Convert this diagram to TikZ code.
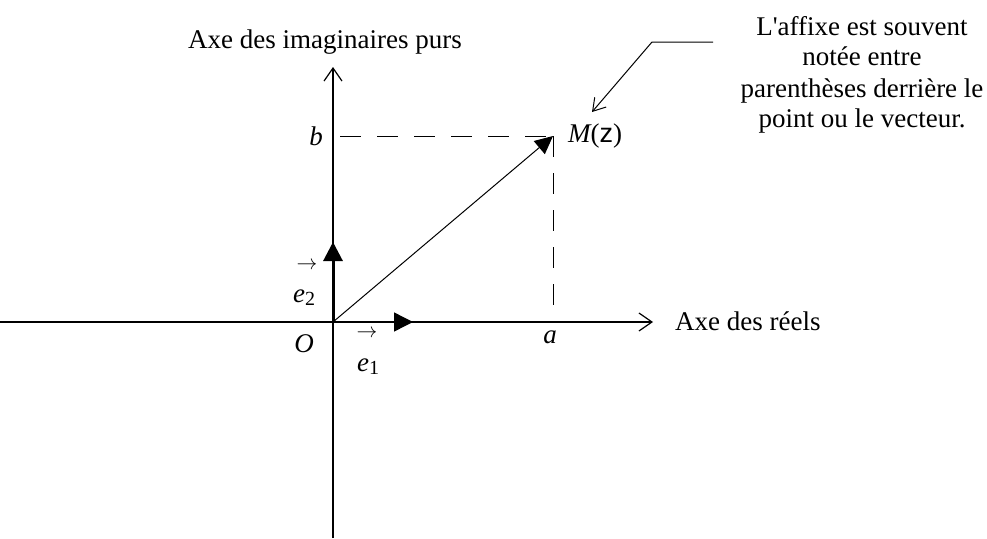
\documentclass[tikz,border=0pt]{standalone}
\usepackage{fontspec}
\setmainfont{Liberation Serif}
\newfontfamily\zfont{Liberation Sans}
\newfontfamily\notefont{Liberation Serif}
\usetikzlibrary{arrows.meta}
\begin{document}
\begin{tikzpicture}[x=1pt,y=-1pt,
  axis/.style={line width=1.4pt,-{Straight Barb[length=13pt,width=18pt,line width=1.2pt]}},
  unitvec/.style={-{Triangle[length=19pt,width=19pt]}},
  dashline/.style={line width=0.9pt,dash pattern=on 21pt off 16pt},
  lbl/.style={font=\fontsize{27}{30}\selectfont,inner sep=0pt},
  note/.style={font=\notefont\fontsize{27}{30.7}\selectfont,inner sep=0pt,anchor=base}]
\useasboundingbox (0,0) rectangle (987,538);
\fill[white] (0,0) rectangle (987,538);
\coordinate (xl) at (0,322);
\coordinate (xr) at (653,322);
\coordinate (yb) at (333,538);
\coordinate (yt) at (333,67);
\coordinate (O) at (333,322);
\coordinate (M) at (553,136);
\coordinate (E1) at (413,322);
\coordinate (E2) at (333,242);
\coordinate (Mb) at (340,136);
\coordinate (Ma) at (553,322);
% axes
\draw[axis] (xl) -- (xr);
\draw[axis] (yb) -- (yt);
% dashed projections
\draw[dashline] (Mb) -- (M);
\draw[dashline] (M) -- (Ma);
% vector OM
\draw[line width=1pt,-{Triangle[length=18pt,width=17pt]}] (O) -- (M);
% unit vectors
\draw[line width=1.4pt,unitvec] (O) -- (E1);
\draw[line width=3pt,unitvec] (O) -- (E2);
% labels
\node[lbl,anchor=base] (ly) at (325,48) {Axe des imaginaires purs};
\node[lbl,anchor=base west] (lx) at (675,330) {Axe des réels};
\node[lbl,anchor=base] (lb) at (316,145) {\itshape b};
\node[lbl,anchor=base] (la) at (550,343) {\itshape a};
\node[lbl,anchor=base] (lO) at (304,352) {\itshape O};
\node[lbl,anchor=base west] (le2) at (293,302) {\itshape e\raisebox{-0.3ex}{\fontsize{20}{20}\selectfont\upshape 2}};
\node[lbl] (ae2) at (307,266) {\fontsize{20}{20}\selectfont$\rightarrow$};
\node[lbl,anchor=base west] (le1) at (357,371) {\itshape e\raisebox{-0.3ex}{\fontsize{20}{20}\selectfont\upshape 1}};
\node[lbl] (ae1) at (367,334) {\fontsize{20}{20}\selectfont$\rightarrow$};
\node[lbl,anchor=base west] (lM) at (568,142) {\itshape M\upshape(\zfont z\rmfamily)};
% annotation
\node[note] (ann1) at (862,35) {L'affixe est souvent};
\node[note] (ann2) at (862,65) {notée entre};
\node[note] (ann3) at (862,97) {parenthèses derrière le};
\node[note] (ann4) at (862,127) {point ou le vecteur.};
\coordinate (a1) at (713,42);
\coordinate (a2) at (652,42);
\coordinate (a3) at (592,112);
\draw[line width=1pt,-{Straight Barb[length=12pt,width=15pt,line width=1pt]}] (a1) -- (a2) -- (a3);
\end{tikzpicture}
\end{document}
